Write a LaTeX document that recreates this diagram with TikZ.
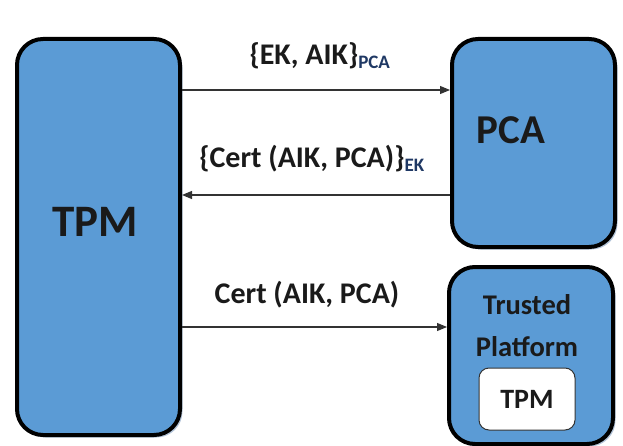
\documentclass[tikz,border=0pt]{standalone}
\usepackage{fontspec}
\setmainfont{Carlito}
\usetikzlibrary{arrows.meta,shadows}
\definecolor{boxblue}{HTML}{5B9BD5}
\definecolor{inkdark}{HTML}{1A1A1A}
\definecolor{subblue}{HTML}{1F3864}
\definecolor{shadowgray}{HTML}{A9BCD3}
\tikzset{
  entity/.style={draw=black, line width=4pt, fill=boxblue, rounded corners=26pt,
    inner sep=0pt, anchor=north west,
    drop shadow={shadow xshift=2.5pt, shadow yshift=-2.5pt, fill=shadowgray, opacity=0.9}},
  innerbox/.style={draw=black!80, line width=1pt, fill=white, rounded corners=10pt,
    inner sep=0pt, minimum width=96pt, minimum height=62pt,
    font=\fontsize{28}{30}\selectfont\bfseries, text=inkdark},
  msg/.style={font=\fontsize{30}{32}\selectfont\bfseries, text=inkdark, inner sep=0pt},
  flow/.style={draw=black!80, line width=1.1pt, -{Triangle[length=10pt,width=8pt]}},
  bigtext/.style={font=\bfseries, text=inkdark, inner sep=0pt}
}
\newcommand{\subtag}[1]{\textsubscript{\color{subblue}\fontsize{19}{20}\selectfont #1}}
\begin{document}
\begin{tikzpicture}[x=1pt,y=-1pt]
  \useasboundingbox (0,0) rectangle (623,446);

  % the three parties
  \node[entity, minimum width=163pt, minimum height=396pt] (tpm) at (15,37) {};
  \node[entity, minimum width=163pt, minimum height=208pt] (pca) at (450,37) {};
  \node[entity, minimum width=164pt, minimum height=177pt] (tp) at (447,265) {};

  % their labels
  \node[bigtext, font=\fontsize{45}{48}\selectfont\bfseries] (tpmlabel) at (95,222) {TPM};
  \node[bigtext, font=\fontsize{41}{44}\selectfont\bfseries] (pcalabel) at (511,130) {PCA};
  \node[bigtext, align=center, font=\fontsize{28.5}{42}\selectfont\bfseries] (tplabel) at (527,326) {Trusted\\Platform};
  \node[innerbox] (innertpm) at (527,399) {TPM};

  % message rows
  \coordinate (row1) at (0,90);
  \coordinate (row2) at (0,195);
  \coordinate (row3) at (0,327);

  \draw[flow] (tpm.east |- row1) -- (pca.west |- row1);
  \draw[flow] (pca.west |- row2) -- (tpm.east |- row2);
  \draw[flow] (tpm.east |- row3) -- (tp.west |- row3);

  \node[msg] (m1) at (320,56) {\{EK, AIK\}\subtag{PCA}};
  \node[msg] (m2) at (312,159) {\{Cert (AIK, PCA)\}\subtag{EK}};
  \node[msg] (m3) at (307,295) {Cert (AIK, PCA)};
\end{tikzpicture}
\end{document}
